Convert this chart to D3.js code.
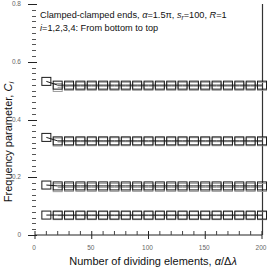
<!DOCTYPE html>
<html>
<head>
<meta charset="utf-8">
<script src="https://cdn.jsdelivr.net/npm/d3@7"></script>
<style>
  body { margin: 0; background: #fff; }
  text { font-family: "Liberation Sans", Arial, sans-serif; }
</style>
</head>
<body>
<div class="draw-chart"></div>
<script>
// dividing elements
const nElems = [10, 20, 30, 40, 50, 60, 70, 80, 90, 100, 110, 120, 130, 140, 150, 160, 170, 180, 190, 200];

// black markers (i = 1..4)
const blackI1 = [0.069, 0.069, 0.069, 0.069, 0.069, 0.069, 0.069, 0.069, 0.069, 0.069, 0.069, 0.069, 0.069, 0.069, 0.069, 0.069, 0.069, 0.069, 0.069, 0.069];
const blackI2 = [0.173, 0.170, 0.170, 0.170, 0.170, 0.170, 0.170, 0.170, 0.170, 0.170, 0.170, 0.170, 0.170, 0.170, 0.170, 0.170, 0.170, 0.170, 0.170, 0.170];
const blackI3 = [0.338, 0.326, 0.326, 0.326, 0.326, 0.326, 0.326, 0.326, 0.326, 0.326, 0.326, 0.326, 0.326, 0.326, 0.326, 0.326, 0.326, 0.326, 0.326, 0.326];
const blackI4 = [0.532, 0.519, 0.519, 0.519, 0.519, 0.519, 0.519, 0.519, 0.519, 0.519, 0.519, 0.519, 0.519, 0.519, 0.519, 0.519, 0.519, 0.519, 0.519, 0.519];

// gray markers (start at 20)
const grayN = [20, 30, 40, 50, 60, 70, 80, 90, 100, 110, 120, 130, 140, 150, 160, 170, 180, 190, 200];
const grayI1 = [0.067, 0.067, 0.067, 0.067, 0.067, 0.067, 0.067, 0.067, 0.067, 0.067, 0.067, 0.067, 0.067, 0.067, 0.067, 0.067, 0.067, 0.067, 0.067];
const grayI2 = [0.164, 0.165, 0.165, 0.165, 0.165, 0.165, 0.165, 0.165, 0.165, 0.165, 0.165, 0.165, 0.165, 0.165, 0.165, 0.165, 0.165, 0.165, 0.165];
const grayI3 = [0.322, 0.323, 0.323, 0.323, 0.323, 0.323, 0.323, 0.323, 0.323, 0.323, 0.323, 0.323, 0.323, 0.323, 0.323, 0.323, 0.323, 0.323, 0.323];
const grayI4 = [0.511, 0.515, 0.515, 0.515, 0.515, 0.515, 0.515, 0.515, 0.515, 0.515, 0.515, 0.515, 0.515, 0.515, 0.515, 0.515, 0.515, 0.515, 0.515];

const xTicks = [0, 50, 100, 150, 200];
const yTicks = [0, 0.2, 0.4, 0.6, 0.8];

const width = 270, height = 270;
const svg = d3.select(".draw-chart").append("svg")
  .attr("width", width).attr("height", height);

const x = d3.scaleLinear().domain([0, 200]).range([35, 262]);
const y = d3.scaleLinear().domain([0, 0.8]).range([235, 4]);

// x axis: minor ticks inside, majors crossing
const xAxis = svg.append("g").attr("transform", "translate(0,235)");
xAxis.append("line").attr("x1", x(0)).attr("x2", x(200)).attr("stroke", "#222");
xAxis.selectAll(".minor").data(d3.range(10, 200, 10).filter(v => v % 50 !== 0))
  .enter().append("line")
  .attr("x1", d => x(d)).attr("x2", d => x(d))
  .attr("y1", 0).attr("y2", -4).attr("stroke", "#444");
xAxis.selectAll(".major").data(xTicks).enter().append("line")
  .attr("x1", d => x(d)).attr("x2", d => x(d))
  .attr("y1", -4).attr("y2", 4).attr("stroke", "#222");
xAxis.selectAll(".lab").data(xTicks).enter().append("text")
  .attr("x", d => x(d) - 1).attr("y", 15)
  .attr("text-anchor", "middle").attr("font-size", 6.5).attr("fill", "#666")
  .text(d => d);

// y axis: no domain line, only ticks
const yAxis = svg.append("g");
yAxis.selectAll(".minor").data(d3.range(0.02, 0.8, 0.02).filter(v => Math.abs(v * 5 - Math.round(v * 5)) > 1e-6))
  .enter().append("line")
  .attr("x1", 32).attr("x2", 36)
  .attr("y1", d => Math.round(y(d)) + 0.5).attr("y2", d => Math.round(y(d)) + 0.5)
  .attr("stroke", "#555");
yAxis.selectAll(".major").data(yTicks).enter().append("line")
  .attr("x1", 28).attr("x2", 37)
  .attr("y1", d => Math.round(y(d)) + 0.5).attr("y2", d => Math.round(y(d)) + 0.5)
  .attr("stroke", "#222");
yAxis.selectAll(".lab").data(yTicks).enter().append("text")
  .attr("x", 21).attr("y", d => y(d) + 2)
  .attr("text-anchor", "end").attr("font-size", 6.5).attr("fill", "#666")
  .text(d => d);

// right border line
svg.append("line")
  .attr("x1", x(200) + 0.5).attr("x2", x(200) + 0.5)
  .attr("y1", y(0.8)).attr("y2", y(0))
  .attr("stroke", "#333").attr("stroke-width", 1.2);

const line = d3.line().x(d => x(d[0])).y(d => y(d[1]));

function drawSeries(ns, vals, color) {
  const pts = ns.map((n, k) => [n, vals[k]]);
  svg.append("path").datum(pts)
    .attr("fill", "none").attr("stroke", color).attr("stroke-width", 1)
    .attr("d", line);
  svg.append("g").selectAll("rect").data(pts).enter().append("rect")
    .attr("x", d => x(d[0]) - 4.5).attr("y", d => y(d[1]) - 4)
    .attr("width", 9).attr("height", 8)
    .attr("fill", "none").attr("stroke", color).attr("stroke-width", 1);
}

[grayI1, grayI2, grayI3, grayI4].forEach(v => drawSeries(grayN, v, "#9a9a9a"));
[blackI1, blackI2, blackI3, blackI4].forEach(v => drawSeries(nElems, v, "#1a1a1a"));

// annotation
const note = svg.append("text").attr("x", 40).attr("y", 18).attr("font-size", 9.2).attr("fill", "#111");
note.append("tspan").text("Clamped-clamped ends, ");
note.append("tspan").attr("font-style", "italic").text("α");
note.append("tspan").text("=1.5π, ");
note.append("tspan").attr("font-style", "italic").text("s");
note.append("tspan").attr("font-style", "italic").attr("font-size", 6.5).attr("dy", 2).text("r");
note.append("tspan").attr("dy", -2).text("=100, ");
note.append("tspan").attr("font-style", "italic").text("R");
note.append("tspan").text("=1");

const note2 = svg.append("text").attr("x", 40).attr("y", 31).attr("font-size", 9.2).attr("fill", "#111");
note2.append("tspan").attr("font-style", "italic").text("i");
note2.append("tspan").text("=1,2,3,4: From bottom to top");

// axis titles
const yl = svg.append("text")
  .attr("transform", "translate(12,142) rotate(-90)")
  .attr("text-anchor", "middle").attr("font-size", 11).attr("fill", "#111");
yl.append("tspan").text("Frequency parameter, ");
yl.append("tspan").attr("font-style", "italic").text("C");
yl.append("tspan").attr("font-style", "italic").attr("font-size", 8).attr("dy", 2).text("i");

const xl = svg.append("text")
  .attr("x", 153).attr("y", 265)
  .attr("text-anchor", "middle").attr("font-size", 11).attr("fill", "#111");
xl.append("tspan").text("Number of dividing elements, ");
xl.append("tspan").attr("font-style", "italic").text("α");
xl.append("tspan").text("/Δ");
xl.append("tspan").attr("font-style", "italic").text("λ");
</script>
</body>
</html>
